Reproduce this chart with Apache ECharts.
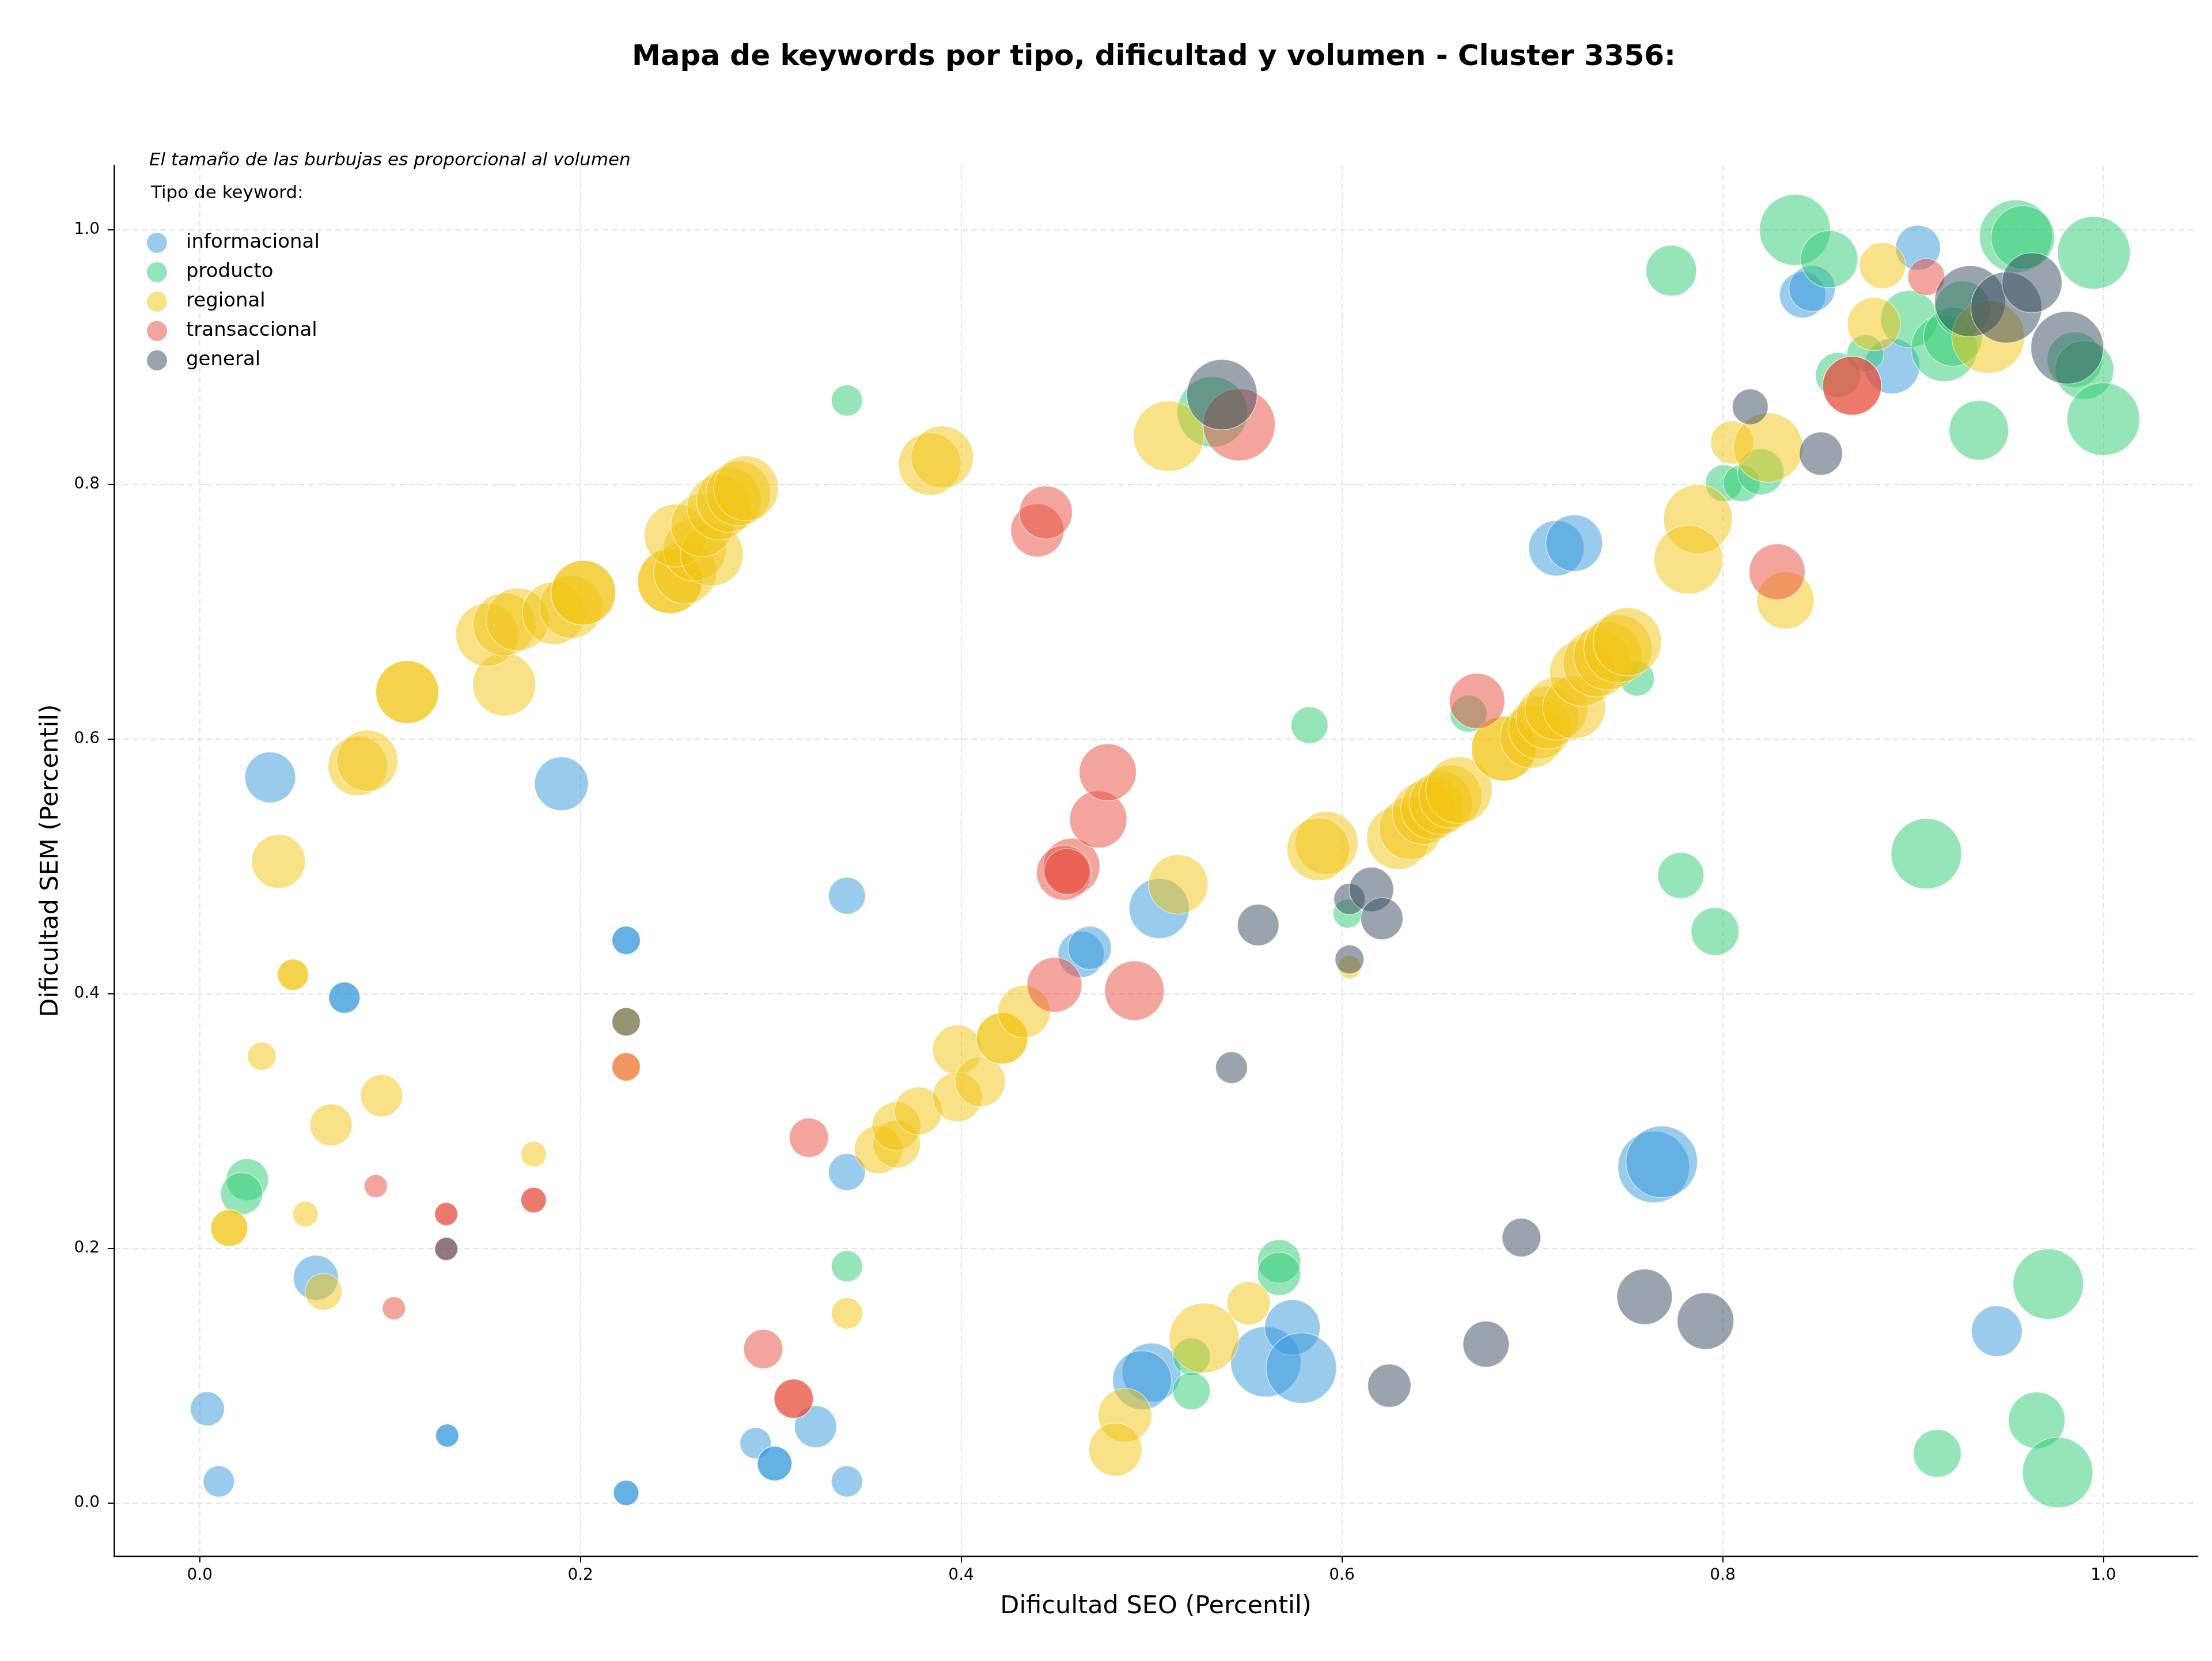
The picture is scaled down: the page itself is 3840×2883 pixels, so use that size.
<!DOCTYPE html>
<html>
<head>
<meta charset="utf-8">
<title>Mapa de keywords - Cluster 3356</title>
<script src="https://cdn.jsdelivr.net/npm/echarts@6/dist/echarts.min.js"></script>
<style>
    html, body { margin: 0; padding: 0; background: #fff; }
    #chart { width: 3840px; height: 2883px; }
</style>
</head>
<body>
<div id="chart"></div>
<script>
var tipos = ['informacional', 'producto', 'regional', 'transaccional', 'general'];
var colores = ['#3498db', '#2ecc71', '#f1c40f', '#e74c3c', '#34495e'];
// mismos colores con alpha 0.5 sobre blanco, para la leyenda
var coloresLeyenda = ['#99cbed', '#96e5b8', '#f8e187', '#f3a59d', '#9aa4ae'];

var ticksX = [0, 0.2, 0.4, 0.6, 0.8, 1.0];
var ticksY = [0, 0.2, 0.4, 0.6, 0.8, 1.0];

// [dificultad SEO, dificultad SEM, volumen]
var informacional = [
    [0.004, 0.074, 2230], [0.010, 0.017, 1870], [0.037, 0.570, 4960], [0.061, 0.177, 3890],
    [0.076, 0.397, 1870], [0.076, 0.397, 1870], [0.190, 0.565, 5540],
    [0.224, 0.442, 1540], [0.224, 0.442, 1540], [0.224, 0.008, 1240], [0.224, 0.008, 1240],
    [0.130, 0.053, 1020], [0.130, 0.053, 1020], [0.340, 0.477, 2620], [0.340, 0.260, 2620],
    [0.340, 0.017, 1870], [0.292, 0.047, 1870], [0.302, 0.031, 2300], [0.302, 0.031, 2300],
    [0.3235, 0.060, 3410], [0.463, 0.431, 4100], [0.4675, 0.436, 3600], [0.504, 0.467, 6920],
    [0.500, 0.1025, 6660], [0.495, 0.0965, 6660], [0.560, 0.111, 9530], [0.574, 0.138, 5900],
    [0.5787, 0.106, 9530], [0.7127, 0.750, 5900], [0.722, 0.754, 6150], [0.7638, 0.264, 9840],
    [0.768, 0.268, 9840], [0.842, 0.949, 4100], [0.847, 0.954, 4100], [0.9026, 0.986, 3890],
    [0.889, 0.893, 5900], [0.944, 0.135, 4960]
];
var producto = [
    [0.025, 0.254, 3410], [0.022, 0.243, 3410], [0.340, 0.866, 1870], [0.340, 0.186, 1870],
    [0.521, 0.115, 2700], [0.521, 0.088, 2700], [0.567, 0.190, 3600], [0.567, 0.180, 3600],
    [0.583, 0.611, 2620], [0.603, 0.463, 1600], [0.6665, 0.620, 2620], [0.755, 0.6475, 2300],
    [0.773, 0.968, 4960], [0.778, 0.493, 4100], [0.796, 0.449, 4410], [0.8006, 0.801, 2620],
    [0.810, 0.801, 2620], [0.820, 0.810, 4100], [0.532, 0.857, 9530], [0.838, 1.000, 9680],
    [0.856, 0.977, 6270], [0.875, 0.903, 2620], [0.8606, 0.886, 3890], [0.898, 0.930, 6270],
    [0.9164, 0.907, 8460], [0.921, 0.916, 6660], [0.926, 0.938, 5900], [0.954, 0.995, 10160],
    [0.9577, 0.994, 7740], [0.995, 0.982, 10160], [0.985, 0.898, 5900], [0.990, 0.890, 6660],
    [1.000, 0.8514, 10160], [0.9346, 0.8426, 6790], [0.907, 0.510, 9530], [0.971, 0.172, 9530],
    [0.965, 0.065, 6150], [0.976, 0.024, 9530], [0.9127, 0.039, 4410]
];
var regional = [
    [0.0155, 0.216, 2620], [0.0155, 0.216, 2620], [0.0326, 0.351, 1540], [0.0414, 0.504, 5540],
    [0.049, 0.415, 1870], [0.049, 0.415, 1870], [0.0555, 0.227, 1240], [0.065, 0.166, 2620],
    [0.069, 0.297, 3410], [0.0955, 0.320, 3410], [0.1754, 0.274, 1240], [0.340, 0.149, 1870],
    [0.224, 0.378, 1540], [0.224, 0.3426, 1540], [0.083, 0.579, 6790], [0.088, 0.583, 7190],
    [0.109, 0.637, 7600], [0.109, 0.637, 7600], [0.160, 0.643, 7600], [0.151, 0.682, 7600],
    [0.160, 0.690, 7600], [0.167, 0.694, 7600], [0.186, 0.699, 7600], [0.195, 0.704, 7600],
    [0.2015, 0.715, 8030], [0.2015, 0.715, 8030], [0.247, 0.724, 8030], [0.247, 0.724, 8030],
    [0.255, 0.731, 7600], [0.260, 0.749, 7600], [0.250, 0.760, 7600], [0.269, 0.745, 7600],
    [0.264, 0.768, 7600], [0.273, 0.782, 8030], [0.278, 0.788, 8030], [0.283, 0.793, 8030],
    [0.287, 0.797, 8030], [0.3834, 0.816, 7460], [0.390, 0.8215, 7460], [0.509, 0.838, 9530],
    [0.3565, 0.2776, 4410], [0.366, 0.282, 4410], [0.366, 0.296, 4620], [0.3775, 0.308, 4410],
    [0.398, 0.356, 4730], [0.398, 0.319, 4730], [0.410, 0.331, 4840], [0.4215, 0.365, 5070],
    [0.4215, 0.365, 5070], [0.433, 0.386, 5300], [0.486, 0.069, 5540], [0.481, 0.042, 5420],
    [0.5276, 0.1296, 9370], [0.551, 0.157, 3600], [0.514, 0.486, 6790], [0.592, 0.5185, 7600],
    [0.5877, 0.5136, 7600], [0.604, 0.421, 1020], [0.6295, 0.5225, 7600], [0.636, 0.530, 7600],
    [0.643, 0.542, 7600], [0.6475, 0.546, 7600], [0.652, 0.550, 7600], [0.657, 0.555, 7600],
    [0.6615, 0.560, 8460], [0.685, 0.5925, 8030], [0.685, 0.5925, 8030], [0.6996, 0.602, 7600],
    [0.704, 0.609, 7600], [0.708, 0.617, 7600], [0.7127, 0.624, 7600], [0.722, 0.625, 7600],
    [0.7265, 0.652, 8460], [0.734, 0.660, 8910], [0.7397, 0.6655, 8910], [0.745, 0.671, 8910],
    [0.750, 0.6765, 8910], [0.787, 0.773, 9060], [0.782, 0.741, 9060], [0.805, 0.833, 3600],
    [0.824, 0.829, 9220], [0.833, 0.709, 6270], [0.8795, 0.926, 5420], [0.884, 0.972, 4100],
    [0.9395, 0.916, 10160]
];
var transaccional = [
    [0.0925, 0.249, 1020], [0.102, 0.153, 1020], [0.1295, 0.227, 1020], [0.1295, 0.227, 1020],
    [0.1754, 0.238, 1240], [0.1754, 0.238, 1240], [0.224, 0.3426, 1540], [0.1295, 0.1996, 1020],
    [0.296, 0.121, 2960], [0.312, 0.082, 2960], [0.312, 0.082, 2960], [0.320, 0.287, 2960],
    [0.440, 0.764, 5420], [0.4445, 0.778, 5420], [0.458, 0.500, 6150], [0.454, 0.495, 5780],
    [0.4556, 0.496, 4100], [0.449, 0.407, 5780], [0.472, 0.537, 6270], [0.477, 0.574, 6270],
    [0.491, 0.4025, 6790], [0.546, 0.847, 10000], [0.671, 0.630, 5900], [0.8286, 0.7314, 6020],
    [0.868, 0.8776, 6660], [0.868, 0.8776, 6660], [0.907, 0.963, 2620]
];
var general = [
    [0.1295, 0.1996, 1020], [0.224, 0.378, 1540], [0.537, 0.8706, 9530], [0.556, 0.454, 3320],
    [0.542, 0.342, 1940], [0.604, 0.4745, 1870], [0.6155, 0.482, 3800], [0.621, 0.459, 3410],
    [0.604, 0.427, 1600], [0.6943, 0.2085, 2870], [0.6757, 0.1248, 4100], [0.6249, 0.0922, 3600],
    [0.759, 0.162, 5900], [0.791, 0.143, 6150], [0.8145, 0.861, 2460], [0.8516, 0.8243, 3600],
    [0.930, 0.944, 9680], [0.949, 0.939, 9680], [0.9625, 0.9585, 6920], [0.981, 0.9075, 10160]
];

var datos = [informacional, producto, regional, transaccional, general];
var fuente = 'DejaVu Sans';

function ejeValor(nombre, ticks, min, max) {
    return {
        type: 'value',
        min: min,
        max: max,
        name: nombre,
        nameLocation: 'middle',
        nameTextStyle: { fontFamily: fuente, fontSize: 43, color: '#000' },
        axisLine: { show: true, onZero: false, lineStyle: { color: '#000', width: 2.5 } },
        axisTick: { show: true, length: 11, customValues: ticks, lineStyle: { color: '#000', width: 2 } },
        axisLabel: {
            customValues: ticks,
            fontFamily: fuente,
            fontSize: 28,
            color: '#000',
            formatter: function (v) { return v.toFixed(1); }
        },
        splitLine: { show: true, lineStyle: { color: '#e3e3e3', width: 2, type: [10, 6] } }
    };
}

var chart = echarts.init(document.getElementById('chart'));

var xAxis = ejeValor('Dificultad SEO (Percentil)', ticksX, -0.045, 1.0495);
xAxis.nameGap = 66;
xAxis.axisLabel.margin = 20;
var yAxis = ejeValor('Dificultad SEM (Percentil)', ticksY, -0.0417, 1.0507);
yAxis.nameGap = 88;
yAxis.axisLabel.margin = 25;

var option = {
    animation: false,
    backgroundColor: '#fff',
    grid: { left: 198, right: 25, top: 287, bottom: 182, containLabel: false },
    xAxis: xAxis,
    yAxis: yAxis,
    legend: {
        orient: 'vertical',
        left: 255,
        top: 404,
        padding: 0,
        itemWidth: 35,
        itemHeight: 35,
        itemGap: 16,
        icon: 'circle',
        textStyle: { fontFamily: fuente, fontSize: 34, lineHeight: 35, color: '#000', padding: [0, 0, 0, 28] },
        data: tipos.map(function (t, i) {
            return { name: t, itemStyle: { color: coloresLeyenda[i], opacity: 1, borderWidth: 0 } };
        })
    },
    graphic: [
        {
            type: 'text', x: 2003, y: 100,
            style: {
                text: 'Mapa de keywords por tipo, dificultad y volumen - Cluster 3356:',
                font: 'bold 50px "DejaVu Sans"', fill: '#000',
                align: 'center', verticalAlign: 'middle', textAlign: 'center', textVerticalAlign: 'middle'
            }
        },
        {
            type: 'text', x: 259, y: 279,
            style: {
                text: 'El tamaño de las burbujas es proporcional al volumen',
                font: 'italic 31px "DejaVu Sans"', fill: '#000',
                verticalAlign: 'middle', textVerticalAlign: 'middle'
            }
        },
        {
            type: 'text', x: 262, y: 336,
            style: {
                text: 'Tipo de keyword:',
                font: '31px "DejaVu Sans"', fill: '#000',
                verticalAlign: 'middle', textVerticalAlign: 'middle'
            }
        }
    ],
    series: tipos.map(function (t, i) {
        return {
            name: t,
            type: 'scatter',
            data: datos[i],
            symbolSize: function (v) { return Math.sqrt(v[2]) * 1.25; },
            itemStyle: { color: colores[i], opacity: 0.5, borderColor: '#fff', borderWidth: 1.5 },
            emphasis: { disabled: true }
        };
    })
};

chart.setOption(option);
</script>
</body>
</html>
